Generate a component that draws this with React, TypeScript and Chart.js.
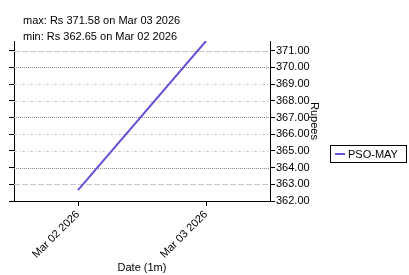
import React, { useEffect, useRef } from "react";
import { Chart, registerables } from "chart.js";

Chart.register(...registerables);

const categories: string[] = ["Mar 02 2026", "Mar 03 2026"];
const seriesName = "PSO-MAY";
const seriesValues: number[] = [362.65, 371.58];
const yMin = 362;
const yMax = 371.58;
const yStep = 1;

// gridline dash kind per tick value (as seen in the reference)
const gridValues: number[] = [371, 370, 369, 368, 367, 366, 365, 364, 363];
const gridKinds: string[] = ["dash", "dot", "dashdot", "dashdot", "dot", "dashdot", "dashdot", "dot", "dash"];

const FONT = "'Liberation Sans', Arial, Helvetica, sans-serif";
const LINE_COLOR = "#6650d6";

const gridPlugin = {
  id: "customGrid",
  beforeDatasetsDraw(chart: any) {
    const { ctx, chartArea } = chart;
    const ys = chart.scales.y;
    ctx.save();
    ys.ticks.forEach((t: any) => {
      const idx = gridValues.indexOf(t.value);
      if (idx < 0) return;
      const kind = gridKinds[idx];
      const py = Math.round(ys.getPixelForValue(t.value)) + 0.5;
      ctx.beginPath();
      ctx.lineWidth = 1;
      if (kind === "dash") {
        ctx.setLineDash([6, 2]);
        ctx.strokeStyle = "#c8c8c8";
      } else if (kind === "dot") {
        ctx.setLineDash([1, 1]);
        ctx.strokeStyle = "#8c8c8c";
      } else {
        ctx.setLineDash([3, 2, 1, 2]);
        ctx.strokeStyle = "#c8c8c8";
      }
      ctx.moveTo(chartArea.left, py);
      ctx.lineTo(chartArea.right, py);
      ctx.stroke();
    });
    ctx.restore();
  },
};

const infoPlugin = {
  id: "infoText",
  afterDraw(chart: any) {
    const { ctx } = chart;
    const vals = chart.data.datasets[0].data as number[];
    const labels = chart.data.labels as string[];
    let iMax = 0;
    let iMin = 0;
    vals.forEach((v, i) => {
      if (v > vals[iMax]) iMax = i;
      if (v < vals[iMin]) iMin = i;
    });
    ctx.save();
    ctx.fillStyle = "#000";
    ctx.font = `11px ${FONT}`;
    ctx.textBaseline = "middle";
    ctx.textAlign = "left";
    ctx.fillText(`max: Rs ${vals[iMax].toFixed(2)} on ${labels[iMax]}`, 23, 21);
    ctx.fillText(`min: Rs ${vals[iMin].toFixed(2)} on ${labels[iMin]}`, 23, 37);
    ctx.restore();
  },
};

const legendPlugin = {
  id: "boxLegend",
  afterDraw(chart: any) {
    const { ctx } = chart;
    const ds = chart.data.datasets[0];
    ctx.save();
    ctx.strokeStyle = "#000";
    ctx.lineWidth = 1;
    ctx.strokeRect(330.5, 145.5, 76, 17);
    ctx.beginPath();
    ctx.strokeStyle = ds.borderColor;
    ctx.lineWidth = 2;
    ctx.moveTo(335, 154);
    ctx.lineTo(345, 154);
    ctx.stroke();
    ctx.fillStyle = "#000";
    ctx.font = `11px ${FONT}`;
    ctx.textBaseline = "middle";
    ctx.textAlign = "left";
    ctx.fillText(ds.label, 348, 154.5);
    ctx.restore();
  },
};

export default function App() {
  const ref = useRef<HTMLCanvasElement | null>(null);

  useEffect(() => {
    document.body.style.margin = "0";
    if (!ref.current) return;
    const font = { family: FONT, size: 11 };
    const chart = new Chart(ref.current, {
      type: "line",
      data: {
        labels: categories,
        datasets: [
          {
            label: seriesName,
            data: seriesValues,
            borderColor: LINE_COLOR,
            backgroundColor: LINE_COLOR,
            borderWidth: 2,
            pointRadius: 0,
            tension: 0,
            yAxisID: "y",
          },
        ],
      },
      options: {
        animation: false,
        responsive: false,
        devicePixelRatio: 1,
        layout: { padding: { top: 41, right: 84, left: 0, bottom: 0 } },
        plugins: {
          legend: { display: false },
          tooltip: { enabled: false },
          title: { display: false },
        },
        scales: {
          x: {
            type: "category",
            offset: true,
            position: "bottom",
            grid: { display: true, drawOnChartArea: false, drawTicks: true, tickLength: 5, color: "#000" },
            border: { display: true, color: "#000", width: 1 },
            ticks: { minRotation: 45, maxRotation: 45, autoSkip: false, color: "#000", font, padding: 2 },
            title: { display: true, text: "Date (1m)", color: "#000", font, padding: { top: 0, bottom: 0 } },
            afterFit: (s: any) => {
              s.height = 74;
            },
          },
          y: {
            type: "linear",
            position: "right",
            min: yMin,
            max: yMax,
            ticks: {
              stepSize: yStep,
              includeBounds: false,
              color: "#000",
              font,
              padding: 1,
              callback: (v: any) => Number(v).toFixed(2),
            },
            grid: { display: true, drawOnChartArea: false, drawTicks: true, tickLength: 5, color: "#000" },
            border: { display: true, color: "#000", width: 1 },
            title: { display: true, text: "Rupees", color: "#000", font },
            afterFit: (s: any) => {
              s.width = 55;
            },
          },
          yl: {
            type: "linear",
            position: "left",
            min: yMin,
            max: yMax,
            ticks: { display: false, stepSize: yStep, includeBounds: false },
            grid: { display: true, drawOnChartArea: false, drawTicks: true, tickLength: 5, color: "#000" },
            border: { display: true, color: "#000", width: 1 },
            afterFit: (s: any) => {
              s.width = 14;
            },
          },
        },
      },
      plugins: [gridPlugin, infoPlugin, legendPlugin],
    } as any);
    return () => chart.destroy();
  }, []);

  return (
    <div style={{ position: "fixed", left: 0, top: 0, width: 409, height: 275, background: "#fff" }}>
      <canvas ref={ref} width={409} height={275} style={{ width: 409, height: 275, display: "block" }} />
    </div>
  );
}
